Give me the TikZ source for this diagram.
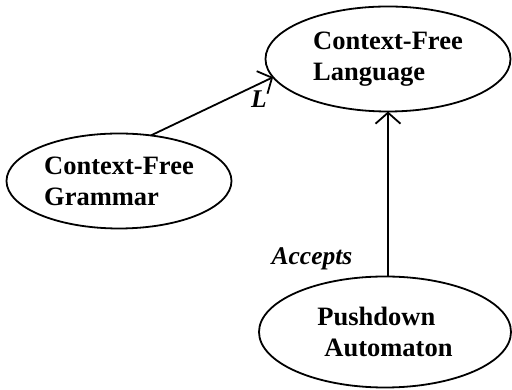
\documentclass[tikz,border=0pt]{standalone}
\usepackage{fontspec}
\setmainfont{Liberation Serif}
\usetikzlibrary{shapes.geometric,arrows.meta}
\begin{document}
\begin{tikzpicture}[x=1pt,y=1pt,
  state/.style={draw,ellipse,line width=1.8pt,inner sep=0pt,outer sep=0pt,
    align=left,font=\fontsize{26.5}{31}\selectfont\bfseries},
  arr/.style={line width=1.8pt,-{Straight Barb[length=11pt,width=25pt,line width=1.8pt]}},
  lab/.style={font=\fontsize{25.5}{30}\selectfont\bfseries\itshape,inner sep=0pt}]
\useasboundingbox (0,0) rectangle (512,390);
\node[state,minimum width=245pt,minimum height=105pt] (cfl) at (388,331) {Context-Free\\Language};
\node[state,minimum width=225pt,minimum height=95pt] (cfg) at (119,209) {Context-Free\\Grammar};
\node[state,minimum width=252pt,minimum height=111pt] (pda) at (385,58) {Pushdown\\\hspace{7pt}Automaton};
\draw[arr] (cfg.55) -- (cfl.189);
\draw[arr] (pda.north -| cfl.south) -- (cfl.south);
\node[lab] (l) at (259,291) {L};
\node[lab] (acc) at (312,131) {Accepts};
\end{tikzpicture}
\end{document}
